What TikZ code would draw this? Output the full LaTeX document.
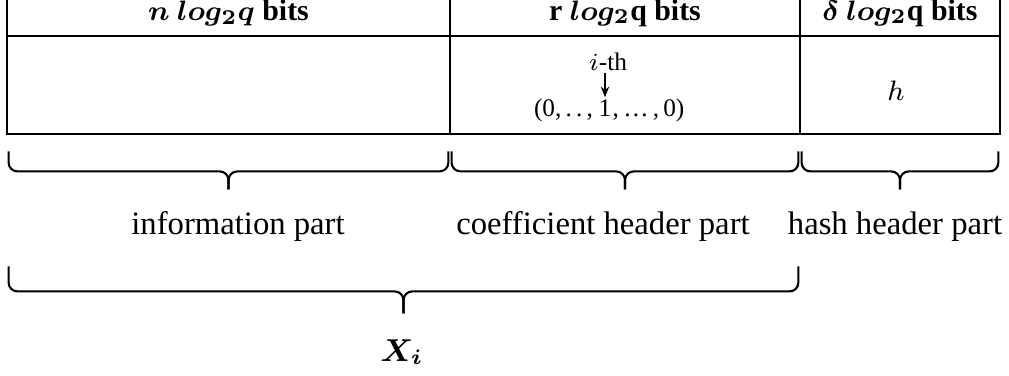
\documentclass[tikz,border=0pt]{standalone}
\usepackage{amsmath}
\usepackage{fontspec}
\setmainfont{Liberation Serif}[BoldFont={Liberation Serif Bold}, ItalicFont={Liberation Serif Italic}]
\usetikzlibrary{
    calc,
    arrows.meta
}
\tikzset{
    headcell/.style={draw, line width=0.8pt, minimum height=0.46cm, inner sep=0pt,
        font=\bfseries\fontsize{8.5}{10}\selectfont},
    cell/.style={draw, line width=0.8pt, minimum height=0.98cm, inner sep=0pt},
    incell/.style={inner sep=0.5pt, font=\fontsize{7.2}{9}\selectfont},
    partlabel/.style={anchor=base, font=\fontsize{9.3}{11}\selectfont},
    bracket/.style={line width=0.6pt, rounded corners=2.5pt}
}

\begin{document}
\begin{tikzpicture}
        \useasboundingbox (0,0) rectangle (10.09,3.76);

        % header row
        \draw (2.285,3.63) node[headcell, minimum width=4.43cm](hinfo){$\boldsymbol{n\ log_2q}$ bits};
        \draw (6.25,3.63) node[headcell, minimum width=3.5cm](hcoef){r $\boldsymbol{log_2}$q bits};
        \draw (9.0,3.63) node[headcell, minimum width=2.0cm](hhash){$\boldsymbol{\delta\ log_2}$q bits};

        % content row
        \draw (2.285,2.91) node[cell, minimum width=4.43cm](info){};
        \draw (6.25,2.91) node[cell, minimum width=3.5cm](coef){};
        \draw (9.0,2.91) node[cell, minimum width=2.0cm](hash){};

        \draw (6.08,3.14) node[incell](ith){$i$-th};
        \draw (6.05,2.68) node[incell, inner xsep=0pt](one){1};
        \draw (one.base west) node[incell, anchor=base east, inner xsep=0pt](vecl){(0,\,.\,.\,,\,};
        \draw (one.base east) node[incell, anchor=base west, inner xsep=0pt](vecr){,\,\dots\,,\,0)};
        \draw[-{Stealth[length=3pt,width=2.4pt]}, line width=0.5pt] (one.north |- ith.south) -- (one.north);

        \draw (8.96,2.85) node[incell, font=\fontsize{8.5}{10}\selectfont](hval){$h$};

        % braces under the cells
        \foreach \c in {info,coef,hash} {
            \draw[bracket] ($(\c.south west)+(0.03,-0.16)$) |- ($(\c.south)+(0,-0.36)$) -- ($(\c.south)+(0,-0.54)$);
            \draw[bracket] ($(\c.south east)+(-0.03,-0.16)$) |- ($(\c.south)+(0,-0.36)$) -- ($(\c.south)+(0,-0.54)$);
        }

        \draw (2.38,1.41) node[partlabel](infolabel){information part};
        \draw (6.03,1.41) node[partlabel](coeflabel){coefficient header part};
        \draw (8.95,1.41) node[partlabel](hashlabel){hash header part};

        % brace over information and coefficient parts
        \coordinate (xl) at ($(info.south west)+(0.03,-1.31)$);
        \coordinate (xr) at ($(coef.south east)+(-0.03,-1.31)$);
        \coordinate (xm) at ($(xl)!0.5!(xr)+(0,-0.25)$);
        \draw[bracket] (xl) |- (xm) -- ++(0,-0.22);
        \draw[bracket] (xr) |- (xm) -- ++(0,-0.22);

        \draw (4.02,0.24) node[font=\fontsize{9}{10}\selectfont](xi){$\boldsymbol{X_i}$};
    \end{tikzpicture}
\end{document}
